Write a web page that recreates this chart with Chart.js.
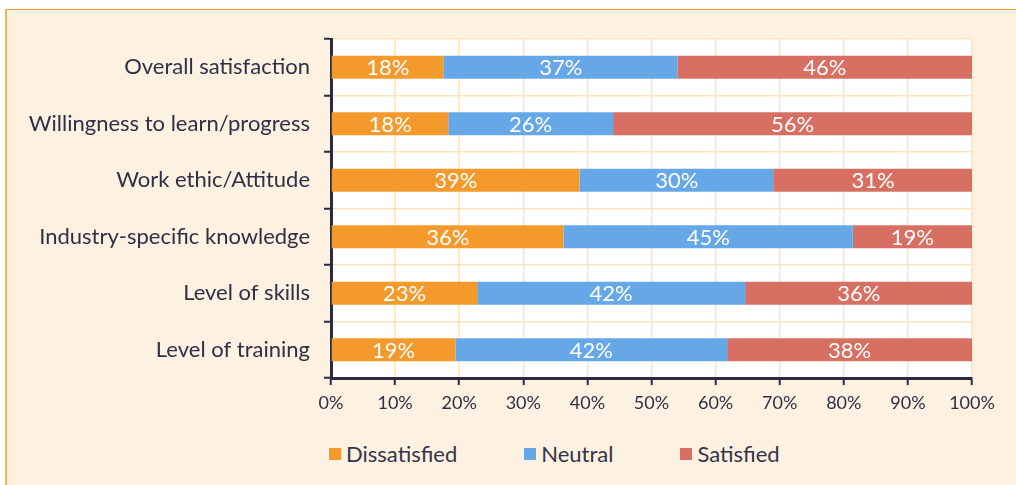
<!DOCTYPE html>
<html>
<head>
<meta charset="utf-8">
<script src="https://cdn.jsdelivr.net/npm/chart.js@4/dist/chart.umd.min.js"></script>
<style>
    html, body {
        margin: 0;
        padding: 0;
        background: #ffffff;
        width: 1016px;
        height: 485px;
        overflow: hidden;
    }
    #frame {
        position: absolute;
        left: 5px;
        top: 9px;
        width: 1009px;
        height: 475px;
        background: #fdf1e1;
        border-left: 2px solid #f4b54d;
        border-top: 1px solid #f0a33a;
    }
    #wrap {
        position: absolute;
        left: 0;
        top: 0;
        width: 1009px;
        height: 420px;
    }
    #legend {
        position: absolute;
        left: 322px;
        top: 431px;
        display: flex;
        font-family: Lato, sans-serif;
        font-size: 22px;
        line-height: 26px;
        color: #34344a;
    }
    .legend-item {
        display: flex;
        align-items: center;
        margin-right: 67px;
    }
    .legend-box {
        width: 12px;
        height: 12px;
        margin-right: 5px;
    }
</style>
</head>
<body>
<div id="frame">
    <div id="wrap"><canvas id="chart" width="1009" height="420"></canvas></div>
    <div id="legend"></div>
</div>
<script>
const categories = [
    'Overall satisfaction',
    'Willingness to learn/progress',
    'Work ethic/Attitude',
    'Industry-specific knowledge',
    'Level of skills',
    'Level of training'
];
const dissatisfied = [17.6, 18.3, 38.8, 36.3, 22.8, 19.4];
const neutral = [36.5, 25.7, 30.3, 45.1, 41.8, 42.4];
const satisfied = [45.9, 56.0, 30.9, 18.6, 35.5, 38.2];
const xTicks = [0, 10, 20, 30, 40, 50, 60, 70, 80, 90, 100];

const textColor = '#2f2f46';
const axisColor = '#2b2b40';
const gridColor = '#fde3bd';

// white plot area behind the bars
const plotBackground = {
    id: 'plotBackground',
    beforeDraw(chart) {
        const {ctx, chartArea} = chart;
        ctx.save();
        ctx.fillStyle = '#ffffff';
        ctx.fillRect(chartArea.left, chartArea.top, chartArea.right - chartArea.left, chartArea.bottom - chartArea.top);
        ctx.restore();
    }
};

// percentage labels in the middle of each segment
const barLabels = {
    id: 'barLabels',
    afterDatasetsDraw(chart) {
        const ctx = chart.ctx;
        ctx.save();
        ctx.font = '22px Lato, sans-serif';
        ctx.fillStyle = '#ffffff';
        ctx.textAlign = 'center';
        ctx.textBaseline = 'middle';
        chart.data.datasets.forEach((ds, i) => {
            chart.getDatasetMeta(i).data.forEach((bar, j) => {
                let x = (bar.x + bar.base) / 2;
                ctx.fillText(Math.round(ds.data[j]) + '%', x, bar.y + 1);
            });
        });
        ctx.restore();
    }
};

const htmlLegend = {
    id: 'htmlLegend',
    afterUpdate(chart) {
        let legend = document.getElementById('legend');
        legend.innerHTML = '';
        chart.data.datasets.forEach(ds => {
            let item = document.createElement('div');
            item.className = 'legend-item';
            let box = document.createElement('div');
            box.className = 'legend-box';
            box.style.background = ds.backgroundColor;
            let label = document.createElement('span');
            label.textContent = ds.label;
            item.appendChild(box);
            item.appendChild(label);
            legend.appendChild(item);
        });
    }
};

let ctx = document.getElementById('chart');
let chart = new Chart(ctx, {
    type: 'bar',
    data: {
        labels: categories,
        datasets: [
            {label: 'Dissatisfied', data: dissatisfied, backgroundColor: '#f49a2d'},
            {label: 'Neutral', data: neutral, backgroundColor: '#66a7e8'},
            {label: 'Satisfied', data: satisfied, backgroundColor: '#d77063'}
        ]
    },
    options: {
        indexAxis: 'y',
        responsive: false,
        animation: false,
        categoryPercentage: 1,
        barPercentage: 0.41,
        layout: {
            padding: {left: 0, right: 44, top: 29, bottom: 0}
        },
        plugins: {
            legend: {display: false},
            tooltip: {enabled: false}
        },
        scales: {
            x: {
                stacked: true,
                min: 0,
                max: 100,
                afterBuildTicks: scale => {
                    scale.ticks = xTicks.map(v => ({value: v}));
                },
                afterFit: scale => {
                    scale.height = 52;
                },
                ticks: {
                    color: textColor,
                    font: {family: 'Lato', size: 18},
                    padding: 7,
                    maxRotation: 0,
                    callback: v => v + '%'
                },
                grid: {
                    color: gridColor,
                    lineWidth: 1.5,
                    tickColor: axisColor,
                    tickWidth: 2,
                    tickLength: 7
                },
                border: {color: axisColor, width: 3}
            },
            y: {
                stacked: true,
                afterFit: scale => {
                    scale.width = 324;
                },
                ticks: {
                    color: textColor,
                    font: {family: 'Lato', size: 22},
                    padding: 14
                },
                grid: {
                    color: gridColor,
                    lineWidth: 1.5,
                    tickColor: axisColor,
                    tickWidth: 2,
                    tickLength: 7
                },
                border: {color: axisColor, width: 3}
            }
        }
    },
    plugins: [plotBackground, barLabels, htmlLegend]
});
</script>
</body>
</html>
